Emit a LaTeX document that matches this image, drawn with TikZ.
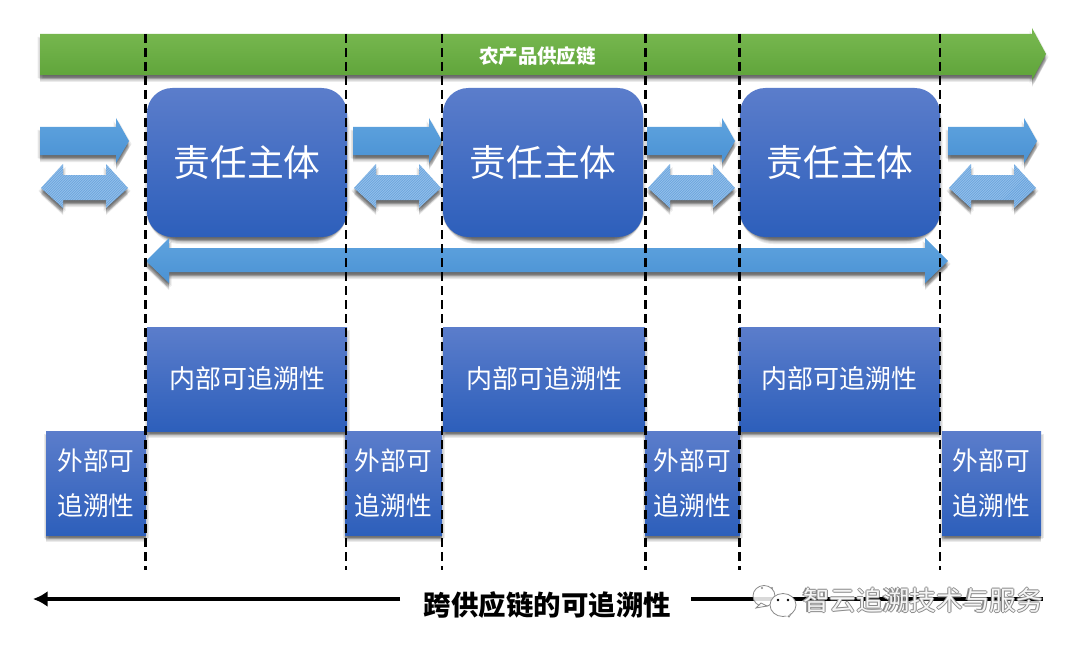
\documentclass[tikz,border=0pt]{standalone}
\usepackage{fontspec}
\newfontfamily\cjk{Noto Sans CJK SC}
\usetikzlibrary{arrows.meta}
\definecolor{boxtop}{HTML}{5B7DCB}
\definecolor{boxbot}{HTML}{2D5FBB}
\definecolor{greentop}{HTML}{79B951}
\definecolor{greenbot}{HTML}{5EA339}
\definecolor{arrowtop}{HTML}{5FA3DE}
\definecolor{arrowbot}{HTML}{4A92D4}
\definecolor{dither}{HTML}{64A2DE}
\definecolor{markgray}{HTML}{8A8A8A}
\tikzset{
  shadowfill/.style={fill=black,fill opacity=.08,draw=none},
  bluebox/.style={top color=boxtop,bottom color=boxbot,shading angle=0,
    inner sep=0pt,outer sep=0pt,text=white,align=center,font=\cjk},
  subject/.style={bluebox,rounded corners=19pt,minimum width=150pt,minimum height=111.75pt,font=\cjk\fontsize{27.6pt}{32pt}\selectfont},
  inner box/.style={bluebox,minimum height=78pt,font=\cjk\fontsize{19.5pt}{24pt}\selectfont},
  outer box/.style={bluebox,minimum height=78pt,font=\cjk\fontsize{19.3pt}{33.7pt}\selectfont},
  flowarrow/.style={top color=arrowtop,bottom color=arrowbot,draw=none},
  dblarrow/.style={fill=dither,draw=none},
  greenarrow/.style={top color=greentop,bottom color=greenbot,draw=none},
  boundary/.style={draw=black,line width=1.9pt,dash pattern=on 6.7pt off 3.8pt},
  timeline/.style={draw=black,line width=2.6pt},
  bubble/.style={draw=markgray,line width=.6pt,fill=white}
}
\newcommand{\wmtext}{\cjk\fontsize{20pt}{24pt}\selectfont 智云追溯技术与服务}
\newcommand{\low}[1]{\raisebox{-3pt}{#1}}
% soft shadow under any closed path
\newcommand{\softshadow}[1]{\foreach \sx/\sy in {0/1,0/2,0/3,0/4,0/5,0/6,0/7,1.5/4,-1.5/4,2.5/3,-2.5/3}{\path[shadowfill,shift={(\sx,\sy)}] #1;}}
\newcommand{\boxshadow}[5]{\softshadow{[rounded corners=#5] (#1,#2) rectangle (#3,#4)}}
\begin{document}
\begin{tikzpicture}[x=.75pt,y=-.75pt]
\useasboundingbox (0,0) rectangle (1080,649);
% supply chain banner
\def\bannerpath{(40,34) -- (1032,34) -- (1032,28) -- (1046,54) -- (1032,80) -- (1032,75) -- (40,75) -- cycle}
\softshadow{\bannerpath}
\path[greenarrow] \bannerpath;
% single flow arrows
\foreach \a/\b/\c in {40/116/129, 353/429/442, 647/722/735, 948/1024/1037}{
  \def\flowpath{(\a,127) -- (\b,127) -- (\b,118) -- (\c,141) -- (\b,163) -- (\b,155) -- (\a,155) -- cycle}
  \softshadow{\flowpath}
  \path[flowarrow] \flowpath;
}
% double arrows
\foreach \a/\b/\c/\d in {41/63/106/128, 354/376/419/441, 648/670/713/735, 949/971/1014/1036}{
  \def\dblpath{(\a,188) -- (\b,164) -- (\b,175) -- (\c,175) -- (\c,164) -- (\d,188) -- (\c,208) -- (\c,200) -- (\b,200) -- (\b,208) -- cycle}
  \softshadow{\dblpath}
  \path[dblarrow] \dblpath;
  \begin{scope}
    \clip \dblpath;
    \foreach \k in {0,2.5,...,140}{
      \draw[white,opacity=.32,line width=.55pt] (\a-30+\k,215) -- ++(60,-60);
    }
  \end{scope}
}
% responsible parties
\boxshadow{147}{88}{347}{237}{25}
\boxshadow{443}{88}{643}{237}{25}
\boxshadow{740}{88}{940}{237}{25}
\node[subject] (s1) at (247,162.5) {\low{责任主体}};
\node[subject] (s2) at (543,162.5) {\low{责任主体}};
\node[subject] (s3) at (840,162.5) {\low{责任主体}};
% long double arrow
\def\longpath{(146,261) -- (169,238) -- (169,248) -- (925,248) -- (925,238) -- (948,261) -- (925,283) -- (925,272) -- (169,272) -- (169,283) -- cycle}
\softshadow{\longpath}
\path[flowarrow] \longpath;
% internal traceability
\boxshadow{147}{327}{347}{431}{0}
\boxshadow{443}{327}{645}{431}{0}
\boxshadow{739}{327}{940}{431}{0}
\node[inner box,minimum width=150pt] (i1) at (247,379) {\low{内部可追溯性}};
\node[inner box,minimum width=151.5pt] (i2) at (544,379) {\low{内部可追溯性}};
\node[inner box,minimum width=150.75pt] (i3) at (839.5,379) {\low{内部可追溯性}};
% external traceability
\boxshadow{46}{431}{146}{535}{0}
\boxshadow{345}{431}{442}{535}{0}
\boxshadow{645}{431}{740}{535}{0}
\boxshadow{942}{431}{1041}{535}{0}
\node[outer box,minimum width=75pt] (e1) at (96,483) {\low{外部可}\\\low{追溯性}};
\node[outer box,minimum width=72.75pt] (e2) at (393.5,483) {\low{外部可}\\\low{追溯性}};
\node[outer box,minimum width=71.25pt] (e3) at (692.5,483) {\low{外部可}\\\low{追溯性}};
\node[outer box,minimum width=74.25pt] (e4) at (991.5,483) {\low{外部可}\\\low{追溯性}};
% boundaries
\foreach \x/\n in {145.5/a,346/b,442/c,645.5/d,739.5/e,940/f}{
  \coordinate (top\n) at (\x,34);
  \coordinate (bot\n) at (\x,570);
  \draw[boundary] (top\n) -- (bot\n);
}
\node[text=white,font=\cjk\bfseries\fontsize{14.6pt}{18pt}\selectfont,inner sep=0pt] (title) at (537.5,56.5) {农产品供应链};
% cross chain label and axis
\node[font=\cjk\bfseries\fontsize{20.6pt}{24pt}\selectfont,inner sep=0pt] (cross) at (547.5,604.5) {跨供应链的可追溯性};
\coordinate (leftend) at (33,599);
\coordinate (lineL) at (400,599);
\coordinate (lineR) at (691,599);
\coordinate (rightend) at (1043,599);
\draw[timeline,-{Latex[length=11pt,width=12pt]}] (lineL) -- (leftend);
\draw[timeline] (lineR) -- (rightend);
% watermark
\path[bubble,fill opacity=.85] (764,596) ellipse [x radius=11,y radius=10.5];
\path[bubble,fill opacity=.85] (756,608) -- (761,603) -- (767,606) -- cycle;
\path[draw=none,fill=markgray] (762,588) circle (1.1) (772,588) circle (1.1);
\path[bubble] (789,617) -- (784,612) -- (793,611) -- cycle;
\path[bubble] (783,605) ellipse [x radius=13,y radius=11.5];
\path[draw=none,fill=white] (787,613) circle (3);
\path[draw=none,fill=black] (778,600) circle (1.4) (788,600) circle (1.4);
\foreach \dx/\dy in {-.8/0,.8/0,0/-.8,0/.8}{
  \node[text=markgray,inner sep=0pt,xshift=\dx pt,yshift=\dy pt] at (923,600) {\wmtext};
}
\node[text=white,inner sep=0pt,text opacity=.92] (mark) at (923,600) {\wmtext};
\end{tikzpicture}
\end{document}
